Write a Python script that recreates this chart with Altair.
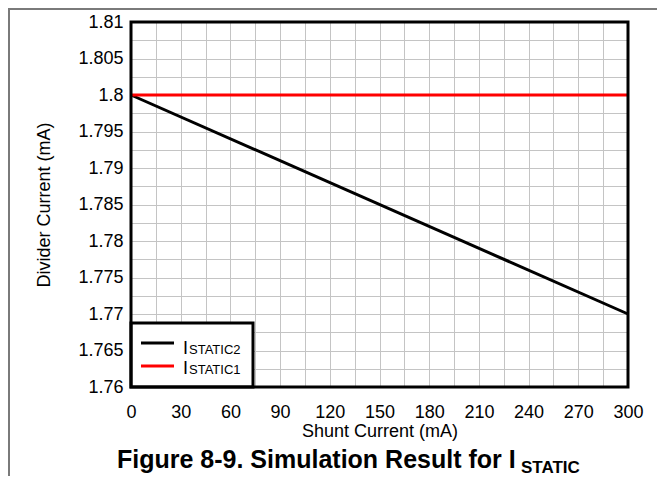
import altair as alt
import pandas as pd

# ---- data ----
shunt_ma = [0, 300]
istatic2 = [1.8, 1.77]
istatic1 = [1.8, 1.8]
series_names = ["ISTATIC2", "ISTATIC1"]
series_colors = ["#000000", "#ff0000"]

x_grid = [0, 15, 30, 45, 60, 75, 90, 105, 120, 135, 150, 165, 180, 195, 210,
          225, 240, 255, 270, 285, 300]
y_grid = [1.76, 1.7625, 1.765, 1.7675, 1.77, 1.7725, 1.775, 1.7775, 1.78,
          1.7825, 1.785, 1.7875, 1.79, 1.7925, 1.795, 1.7975, 1.8, 1.8025,
          1.805, 1.8075, 1.81]

W, H = 497, 365
FONT = "Liberation Sans"

rows = []
for i, xv in enumerate(shunt_ma):
    rows.append({"x": xv, "y": istatic2[i], "s": series_names[0], "o": 0})
    rows.append({"x": xv, "y": istatic1[i], "s": series_names[1], "o": 1})
df = pd.DataFrame(rows)

xscale = alt.Scale(domain=[0, 300], nice=False, zero=False)
yscale = alt.Scale(domain=[1.76, 1.81], nice=False, zero=False)

xaxis = alt.Axis(values=x_grid, labelExpr="datum.value % 30 == 0 ? datum.label : ''",
                 grid=True, gridColor="#c4c4c4", gridWidth=1, ticks=False, tickSize=0,
                 domain=False, labelFont=FONT, labelFontSize=18, labelColor="#000",
                 labelBaseline="alphabetic", labelPadding=30, labelFlush=False,
                 title="Shunt Current (mA)", titleFont=FONT, titleFontSize=18,
                 titleFontWeight="normal", titleColor="#000", titleX=W / 2, titleY=49,
                 titleBaseline="alphabetic", titleAlign="center")
yaxis = alt.Axis(values=y_grid, format="~g",
                 labelExpr="round(datum.value * 2000) % 10 == 0 ? datum.label : ''",
                 grid=True, gridColor="#c4c4c4", gridWidth=1, ticks=False, tickSize=0,
                 domain=False, labelFont=FONT, labelFontSize=18, labelColor="#000",
                 labelPadding=8, labelFlush=False, labelBaseline="middle",
                 title="Divider Current (mA)", titleFont=FONT, titleFontSize=18,
                 titleFontWeight="normal", titleColor="#000", titleX=-87, titleY=H / 2,
                 titleBaseline="middle", titleAlign="center", titleAngle=270)

lines = alt.Chart(df).mark_line(strokeWidth=3).encode(
    x=alt.X("x:Q", scale=xscale, axis=xaxis),
    y=alt.Y("y:Q", scale=yscale, axis=yaxis),
    color=alt.Color("s:N", scale=alt.Scale(domain=series_names, range=series_colors), legend=None),
    order="o:Q",
)

one = pd.DataFrame({"k": [0]})

legend_box = alt.Chart(one).mark_rect(fill="white", stroke="black", strokeWidth=3).encode(
    x=alt.value(0), x2=alt.value(122), y=alt.value(301), y2=alt.value(365))

leg_df = pd.DataFrame({"name": series_names, "color": series_colors,
                       "ly": [321, 344], "ty": [332, 352]})
leg_lines = alt.Chart(leg_df).mark_rule(strokeWidth=3).encode(
    x=alt.value(10), x2=alt.value(43), y=alt.Y("ly:Q", scale=None),
    color=alt.Color("color:N", scale=None))
leg_I = alt.Chart(leg_df).mark_text(font=FONT, fontSize=18, align="left", baseline="alphabetic",
                                    color="black").encode(
    x=alt.value(52), y=alt.Y("ty:Q", scale=None), text=alt.value("I"))
leg_sub = alt.Chart(leg_df).transform_calculate(sub="substring(datum.name, 1)").mark_text(
    font=FONT, fontSize=13, align="left", baseline="alphabetic", color="black").encode(
    x=alt.value(58), y=alt.Y("ty:Q", scale=None), text=alt.Text("sub:N"))

frame = alt.Chart(one).mark_rect(fill=None, stroke="black", strokeWidth=3).encode(
    x=alt.value(0), x2=alt.value(W), y=alt.value(0), y2=alt.value(H))

outer_top = alt.Chart(one).mark_rule(stroke="#7a7a7a", strokeWidth=2).encode(
    x=alt.value(-123), x2=alt.value(W + 29), y=alt.value(-13))
outer_left = alt.Chart(one).mark_rule(stroke="#7a7a7a", strokeWidth=2).encode(
    x=alt.value(-122), y=alt.value(-14), y2=alt.value(H + 89))

title_main = alt.Chart(one).mark_text(font=FONT, fontSize=25, fontWeight="bold", align="left",
                                      baseline="alphabetic", color="black").encode(
    x=alt.value(-14), y=alt.value(446), text=alt.value("Figure 8-9. Simulation Result for I"))
title_sub = alt.Chart(one).mark_text(font=FONT, fontSize=17, fontWeight="bold", align="left",
                                     baseline="alphabetic", color="black").encode(
    x=alt.value(390), y=alt.value(451), text=alt.value("STATIC"))

chart = alt.layer(lines, legend_box, leg_lines, leg_I, leg_sub, frame, outer_top, outer_left,
                  title_main, title_sub).properties(
    width=W, height=H,
    autosize=alt.AutoSizeParams(type="none"),
    padding={"left": 123, "top": 14, "right": 29, "bottom": 89},
).configure_view(stroke=None).configure(background="white")

chart.save("out.html", embed_options={"renderer": "svg", "actions": False})
